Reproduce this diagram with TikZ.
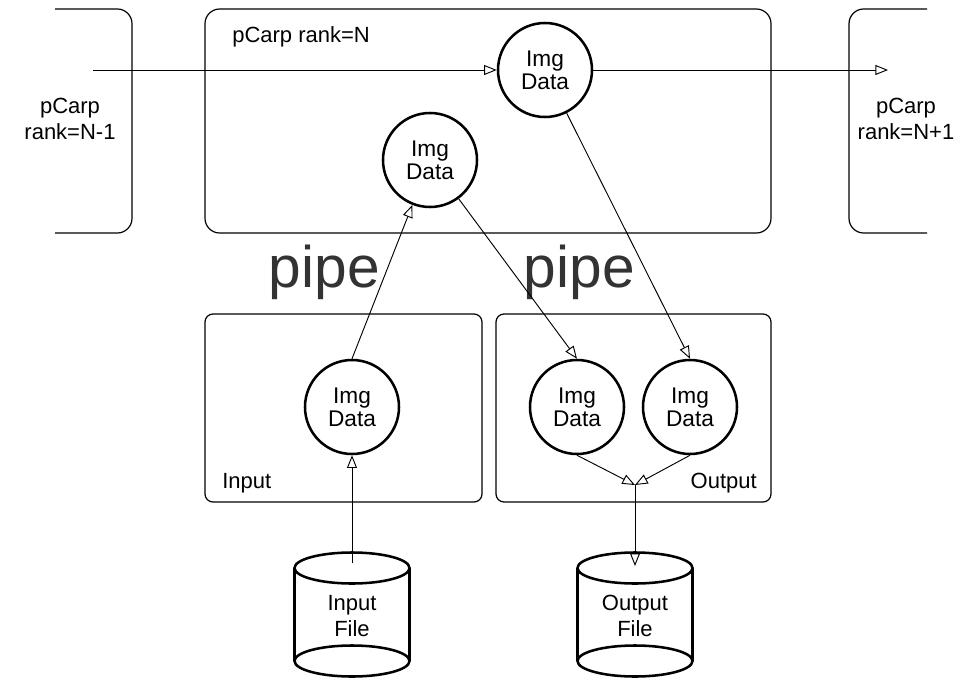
\documentclass[tikz,border=0pt]{standalone}
\usepackage{fontspec}
\setmainfont{Liberation Sans}
\usetikzlibrary{arrows.meta}
\begin{document}
\begin{tikzpicture}[x=0.75pt,y=-0.75pt,
  frame/.style={draw=black, line width=0.9pt},
  imgc/.style={circle, draw=black, line width=1.9pt, minimum size=70.5pt, inner sep=0pt, align=center,
    font=\fontsize{17}{17.5}\selectfont},
  lbl/.style={inner sep=0pt, align=center, font=\fontsize{16.5}{19}\selectfont},
  pipetxt/.style={inner sep=0pt, text=black!80, font=\fontsize{44}{44}\selectfont},
  arr/.style={line width=0.7pt, -{Triangle[open,length=9.5pt,width=7.5pt]}},
  cyl/.style={draw=black, line width=1.9pt}
]
\useasboundingbox (0,0) rectangle (971,678);

% process frames
\draw[frame, rounded corners=11pt] (55,9) -- (132,9) -- (132,233) -- (55,233);
\draw[frame, rounded corners=11pt] (205,9) rectangle (771,233);
\draw[frame, rounded corners=11pt] (927,9) -- (849,9) -- (849,233) -- (927,233);
\draw[frame, rounded corners=6pt] (205,314) rectangle (482,502);
\draw[frame, rounded corners=6pt] (496,314) rectangle (771,502);

% frame labels
\node[lbl] (lprev) at (70,119) {pCarp\\rank=N-1};
\node[lbl] (lnext) at (906,119) {pCarp\\rank=N+1};
\node[lbl, anchor=base west] (lcur) at (232,42) {pCarp rank=N};
\node[lbl, anchor=base west] (lin) at (222,488) {Input};
\node[lbl, anchor=base east] (lout) at (757,488) {Output};
\node[pipetxt, anchor=base east] (pipeA) at (380,287) {pipe};
\node[pipetxt, anchor=base east] (pipeB) at (635,287) {pipe};

% image data buffers
\node[imgc] (top) at (545,70) {Img\\Data};
\node[imgc] (mid) at (430,160) {Img\\Data};
\node[imgc] (inC) at (352,407) {Img\\Data};
\node[imgc] (out1) at (577,407) {Img\\Data};
\node[imgc] (out2) at (690,407) {Img\\Data};

% files
\draw[cyl] (294.5,568) -- (294.5,661) (409.5,568) -- (409.5,661);
\draw[cyl] (352,568) ellipse [x radius=57.5, y radius=15.5];
\draw[cyl] (352,661) ellipse [x radius=57.5, y radius=15.5];
\node[lbl] (inF) at (352,616) {Input\\File};
\draw[cyl] (577.5,568) -- (577.5,661) (692.5,568) -- (692.5,661);
\draw[cyl] (635,568) ellipse [x radius=57.5, y radius=15.5];
\draw[cyl] (635,661) ellipse [x radius=57.5, y radius=15.5];
\node[lbl] (outF) at (635,616) {Output\\File};

% connector end points
\coordinate (lstart) at (93,70);
\coordinate (rend) at (888,70);
\coordinate (merge) at (635,485);
\coordinate (intop) at (352,563);
\coordinate (outtop) at (635,566);

% data flow
\draw[arr] (lstart) -- (top);
\draw[arr] (top) -- (rend);
\draw[arr] (intop) -- (inC.south);
\draw[arr] (inC.north) -- (mid);
\draw[arr] (mid) -- (out1.north);
\draw[arr] (top) -- (out2.north);
\draw[arr] (out1.south) -- (merge);
\draw[arr] (out2.south) -- (merge);
\draw[arr] (merge) -- (outtop);
\end{tikzpicture}
\end{document}
